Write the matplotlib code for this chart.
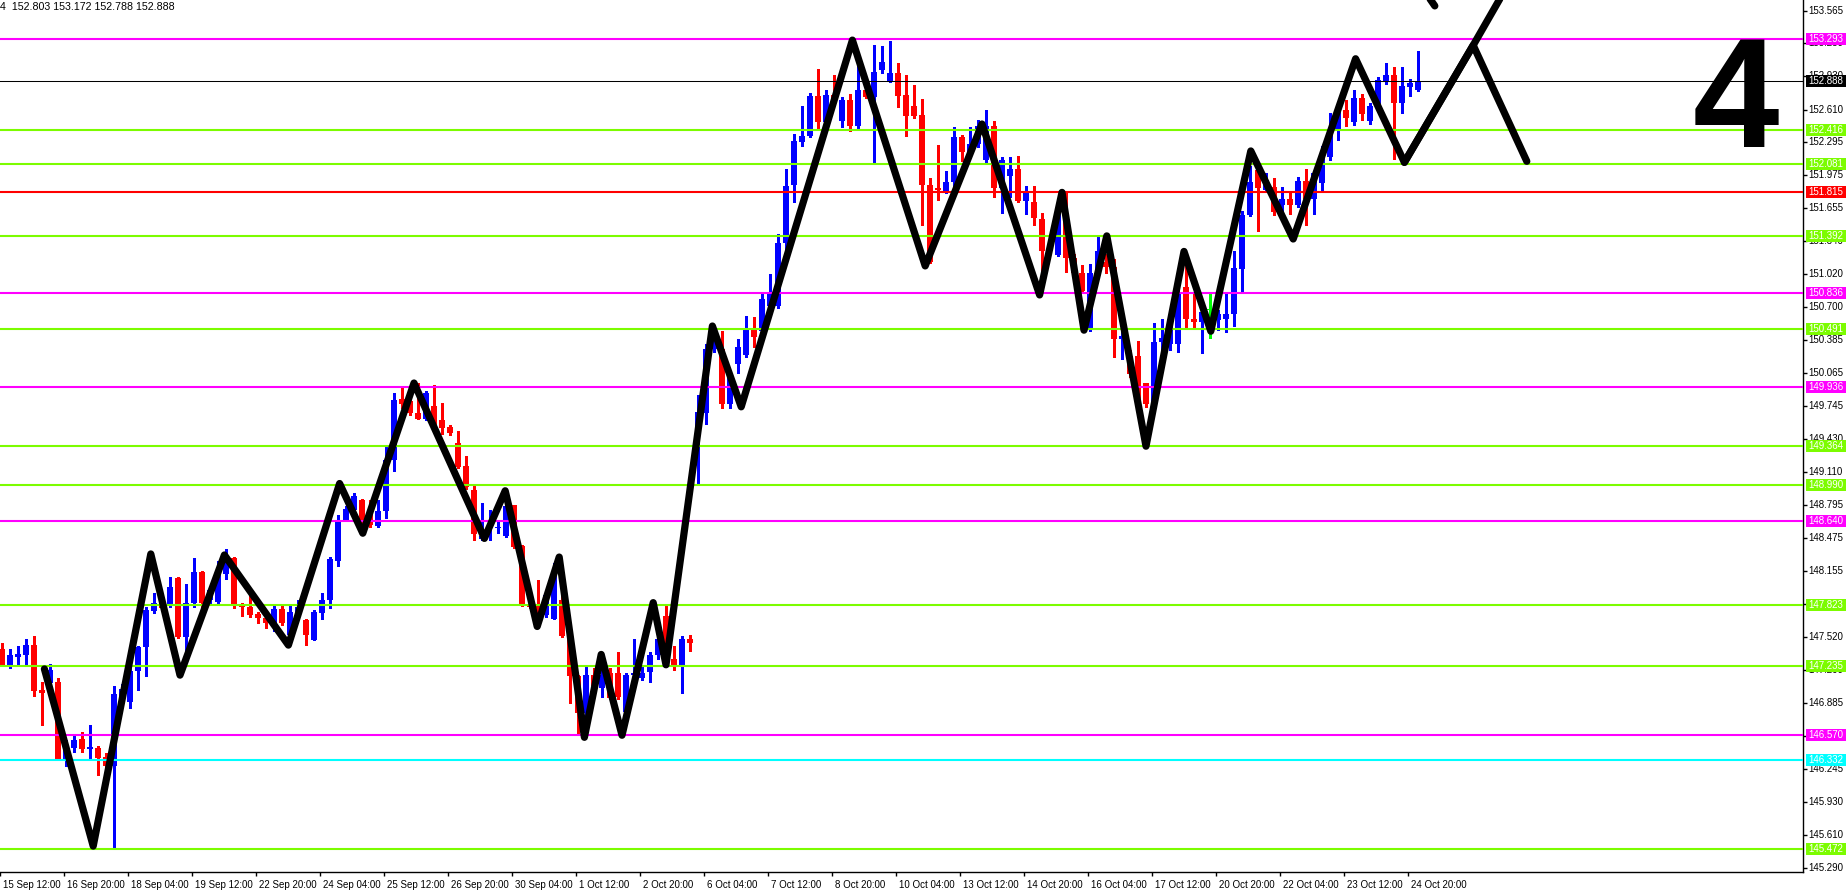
import matplotlib
matplotlib.use('Agg')
import matplotlib.pyplot as plt
from matplotlib.patches import Rectangle
from matplotlib import transforms

plt.rcParams['font.family'] = ['Liberation Sans', 'DejaVu Sans']

# H4 candles, one row per bar: open, high, low, close
ohlc = [
    (147.40, 147.46, 147.24, 147.25), (147.25, 147.40, 147.22, 147.34), (147.33, 147.43, 147.24, 147.35),
    (147.34, 147.50, 147.25, 147.44), (147.44, 147.53, 146.95, 147.00), (147.01, 147.08, 146.67, 146.98),
    (147.07, 147.26, 146.97, 147.20), (147.08, 147.12, 146.33, 146.34), (146.34, 146.52, 146.27, 146.46),
    (146.45, 146.56, 146.41, 146.52), (146.53, 146.60, 146.41, 146.44), (146.44, 146.67, 146.35, 146.45),
    (146.45, 146.47, 146.19, 146.35), (146.36, 146.40, 146.20, 146.27), (146.27, 147.05, 145.47, 146.97),
    (146.89, 147.06, 146.86, 147.02), (146.89, 147.23, 146.83, 147.19), (147.19, 147.43, 147.01, 147.42),
    (147.42, 147.81, 147.14, 147.78), (147.77, 147.94, 147.75, 147.85), (147.85, 147.92, 147.77, 147.80),
    (147.84, 148.10, 147.81, 148.00), (148.09, 148.10, 147.51, 147.52), (147.52, 148.03, 147.39, 147.85),
    (147.85, 148.28, 147.81, 148.15), (148.15, 148.16, 147.78, 147.85), (147.88, 148.00, 147.84, 147.97),
    (147.86, 148.25, 147.83, 148.16), (148.13, 148.37, 148.08, 148.28), (148.28, 148.29, 147.80, 147.84),
    (147.84, 147.85, 147.72, 147.81), (147.81, 147.94, 147.71, 147.73), (147.74, 147.76, 147.65, 147.70),
    (147.70, 147.73, 147.61, 147.65), (147.65, 147.83, 147.58, 147.79), (147.79, 147.83, 147.63, 147.65),
    (147.54, 147.82, 147.52, 147.76), (147.75, 147.88, 147.73, 147.81), (147.68, 147.69, 147.44, 147.54),
    (147.49, 147.78, 147.49, 147.76), (147.75, 147.94, 147.69, 147.88), (147.88, 148.29, 147.80, 148.27),
    (148.25, 148.70, 148.20, 148.65), (148.65, 148.78, 148.65, 148.75), (148.74, 148.91, 148.73, 148.88),
    (148.84, 148.85, 148.58, 148.60), (148.74, 148.84, 148.58, 148.60), (148.59, 148.84, 148.58, 148.73),
    (148.73, 149.35, 148.67, 149.23), (149.23, 149.87, 149.12, 149.81), (149.82, 149.93, 149.73, 149.77),
    (149.80, 149.92, 149.66, 149.68), (149.68, 149.97, 149.62, 149.62), (149.62, 149.89, 149.61, 149.87),
    (149.75, 149.95, 149.53, 149.55), (149.61, 149.78, 149.48, 149.54), (149.55, 149.56, 149.47, 149.49),
    (149.39, 149.51, 149.15, 149.16), (149.17, 149.27, 148.95, 148.97), (148.94, 148.99, 148.45, 148.51),
    (148.46, 148.81, 148.45, 148.49), (148.58, 148.74, 148.45, 148.59), (148.57, 148.63, 148.52, 148.58),
    (148.49, 148.82, 148.48, 148.78), (148.79, 148.79, 148.38, 148.39), (148.40, 148.41, 147.82, 147.84),
    (147.84, 147.86, 147.80, 147.81), (147.84, 148.07, 147.63, 147.65), (147.73, 147.97, 147.71, 147.92),
    (147.69, 148.23, 147.69, 148.13), (147.88, 147.91, 147.52, 147.53), (147.55, 147.55, 146.88, 147.14),
    (147.14, 147.15, 146.57, 146.78), (146.78, 147.25, 146.76, 147.15), (147.15, 147.22, 147.02, 147.05),
    (147.03, 147.20, 146.94, 147.15), (147.17, 147.22, 146.92, 146.93), (147.17, 147.37, 146.92, 146.94),
    (146.79, 147.17, 146.78, 147.15), (147.15, 147.50, 147.10, 147.17), (147.12, 147.23, 147.10, 147.17),
    (147.18, 147.37, 147.08, 147.34), (147.34, 147.52, 147.31, 147.50), (147.72, 147.82, 147.30, 147.34),
    (147.31, 147.43, 147.20, 147.25), (147.25, 147.53, 146.98, 147.50), (147.50, 147.54, 147.38, 147.46),
    (149.47, 149.85, 148.99, 149.69), (149.68, 150.35, 149.57, 150.30), (150.30, 150.47, 150.27, 150.40),
    (150.30, 150.47, 149.73, 149.77), (149.77, 150.08, 149.73, 150.06), (150.15, 150.39, 150.07, 150.32),
    (150.24, 150.62, 150.22, 150.48), (150.48, 150.61, 150.32, 150.41), (150.47, 150.83, 150.43, 150.78),
    (150.71, 151.02, 150.70, 150.83), (150.71, 151.41, 150.69, 151.32), (151.32, 152.04, 151.24, 151.87),
    (151.88, 152.37, 151.72, 152.31), (152.30, 152.64, 152.26, 152.35), (152.35, 152.77, 152.34, 152.74),
    (152.74, 153.00, 152.42, 152.49), (152.49, 152.80, 152.43, 152.75), (152.75, 152.94, 152.67, 152.70),
    (152.50, 152.73, 152.44, 152.70), (152.70, 152.76, 152.40, 152.45), (152.45, 153.08, 152.43, 152.80),
    (152.80, 152.83, 152.72, 152.73), (152.73, 153.23, 152.10, 152.97), (152.99, 153.22, 152.96, 153.07),
    (152.88, 153.27, 152.88, 152.96), (152.96, 153.06, 152.63, 152.74), (152.75, 152.94, 152.35, 152.55),
    (152.64, 152.85, 152.53, 152.55), (152.56, 152.71, 151.50, 151.88), (151.88, 151.95, 151.13, 151.14),
    (151.85, 152.27, 151.74, 151.83), (151.82, 152.02, 151.80, 151.91), (151.91, 152.44, 151.80, 152.34),
    (152.34, 152.36, 152.11, 152.20), (152.20, 152.44, 152.14, 152.28), (152.28, 152.51, 152.25, 152.45),
    (152.12, 152.61, 152.10, 152.45), (152.45, 152.50, 151.77, 151.85), (151.85, 152.15, 151.61, 152.12),
    (151.97, 152.15, 151.77, 152.04), (152.04, 152.16, 151.72, 151.73), (151.73, 151.87, 151.60, 151.81),
    (151.72, 151.87, 151.50, 151.56), (151.55, 151.61, 150.88, 151.24), (151.24, 151.35, 151.22, 151.30),
    (151.21, 151.65, 151.20, 151.62), (151.56, 151.82, 151.04, 151.18), (151.18, 151.22, 151.01, 151.03),
    (151.03, 151.11, 150.85, 150.86), (150.50, 151.12, 150.47, 151.03), (151.03, 151.38, 151.01, 151.24),
    (151.14, 151.22, 151.03, 151.09), (151.09, 151.17, 150.22, 150.39), (150.39, 150.47, 150.20, 150.42),
    (150.23, 150.29, 150.03, 150.06), (150.23, 150.38, 149.68, 149.77), (149.97, 149.97, 149.74, 149.77),
    (149.77, 150.55, 149.77, 150.37), (150.37, 150.59, 150.26, 150.40), (150.35, 150.64, 150.29, 150.59),
    (150.35, 150.87, 150.27, 150.84), (150.90, 151.16, 150.51, 150.59), (150.59, 150.85, 150.50, 150.56),
    (150.56, 150.71, 150.26, 150.66), (150.67, 150.84, 150.40, 150.67), (150.58, 150.67, 150.48, 150.64),
    (150.59, 150.84, 150.46, 150.64), (150.64, 151.24, 150.52, 151.08), (151.07, 151.63, 150.86, 151.59),
    (151.59, 152.06, 151.58, 151.91), (152.03, 152.04, 151.44, 151.85), (151.83, 152.00, 151.82, 151.93),
    (151.86, 151.95, 151.59, 151.62), (151.69, 151.86, 151.61, 151.75), (151.75, 151.80, 151.60, 151.69),
    (151.69, 151.96, 151.67, 151.92), (151.92, 152.04, 151.50, 151.75), (151.75, 152.01, 151.60, 152.00),
    (151.90, 152.26, 151.83, 152.15), (152.15, 152.58, 152.12, 152.40), (152.40, 152.65, 152.32, 152.61),
    (152.61, 152.70, 152.45, 152.53), (152.49, 152.80, 152.46, 152.72), (152.72, 152.76, 152.51, 152.57),
    (152.50, 152.67, 152.47, 152.64), (152.64, 152.92, 152.63, 152.89), (152.88, 153.06, 152.86, 152.94),
    (152.94, 153.02, 152.13, 152.67), (152.67, 153.02, 152.58, 152.84), (152.83, 152.90, 152.74, 152.87),
    (152.803, 153.172, 152.788, 152.888),
]

# x axis labels, one every 8 bars
date_labels = ['15 Sep 12:00', '16 Sep 20:00', '18 Sep 04:00', '19 Sep 12:00', '22 Sep 20:00',
               '24 Sep 04:00', '25 Sep 12:00', '26 Sep 20:00', '30 Sep 04:00', '1 Oct 12:00',
               '2 Oct 20:00', '6 Oct 04:00', '7 Oct 12:00', '8 Oct 20:00', '10 Oct 04:00',
               '13 Oct 12:00', '14 Oct 20:00', '16 Oct 04:00', '17 Oct 12:00', '20 Oct 20:00',
               '22 Oct 04:00', '23 Oct 12:00', '24 Oct 20:00']

price_ticks = [145.290, 145.610, 145.930, 146.245, 146.565, 146.885, 147.200, 147.520, 147.840,
               148.155, 148.475, 148.795, 149.110, 149.430, 149.745, 150.065, 150.385, 150.700,
               151.020, 151.340, 151.655, 151.975, 152.295, 152.610, 152.930, 153.250, 153.565]

# horizontal levels and their colours
levels = [153.293, 152.416, 152.081, 151.815, 151.392, 150.836, 150.491, 149.936,
          149.364, 148.990, 148.640, 147.823, 147.235, 146.570, 146.332, 145.472]
level_colors = ['#FF00FF', '#7CFC00', '#7CFC00', '#FF0000', '#7CFC00', '#FF00FF', '#7CFC00', '#FF00FF',
                '#7CFC00', '#7CFC00', '#FF00FF', '#7CFC00', '#7CFC00', '#FF00FF', '#00FFFF', '#7CFC00']
last_price = 152.888

# zigzag drawn on the chart (bar index, price)
zz_bar = [5.3, 11.4, 18.6, 22.25, 27.8, 35.8, 42.2, 45.1, 51.5, 60.3, 62.9, 66.9, 69.65, 72.8,
          74.9, 77.5, 81.4, 83.0, 88.8, 92.4, 106.3, 115.4, 122.5, 129.7, 132.5, 135.25, 138.1,
          143.0, 147.75, 151.1, 156.1, 161.4, 169.2, 175.3, 183.9, 190.6]
zz_price = [147.21, 145.50, 148.32, 147.15, 148.31, 147.44, 149.00, 148.52, 149.97, 148.47, 148.93,
            147.62, 148.29, 146.55, 147.35, 146.57, 147.85, 147.25, 150.52, 149.74, 153.28, 151.10,
            152.47, 150.82, 151.81, 150.48, 151.39, 149.36, 151.24, 150.47, 152.21, 151.36, 153.10,
            152.10, 153.23, 152.11]
zz_up_bar = [175.3, 183.9, 190.0]
zz_up_price = [152.10, 153.23, 154.05]
zz_stub_bar = [177.4, 179.1]
zz_stub_price = [153.80, 153.61]

W, H = 1848, 891
fig = plt.figure(figsize=(W / 100, H / 100), dpi=100)
ax = fig.add_axes([0, 19 / H, 1803 / W, 872 / H])
ax.set_xlim(-0.25, 225.125)
ax.set_ylim(145.25, 153.667)

for i, (o, h, l, c) in enumerate(ohlc):
    if abs(c - o) < 1e-6:
        col = '#00FF00'
    else:
        col = '#0000FF' if c > o else '#FF0000'
    ax.vlines(i, l, h, color=col, linewidth=0.8, zorder=2, antialiased=False)
    ax.bar(i, max(abs(c - o), 0.012), bottom=min(o, c), width=0.7, color=col,
           linewidth=0, zorder=2, antialiased=False)

for lv, col in zip(levels, level_colors):
    ax.axhline(lv, color=col, linewidth=1.5, zorder=3)
ax.axhline(last_price, color='black', linewidth=0.75, zorder=3)

zz_style = dict(color='black', linewidth=5.2, solid_capstyle='round', solid_joinstyle='round', zorder=5)
ax.plot(zz_bar, zz_price, **zz_style)
ax.plot(zz_up_bar, zz_up_price, **zz_style)
ax.plot(zz_stub_bar, zz_stub_price, **zz_style)

# axes look like the terminal window
for s in ['top', 'left']:
    ax.spines[s].set_visible(False)
for s in ['right', 'bottom']:
    ax.spines[s].set_linewidth(1)
ax.yaxis.tick_right()
ax.set_yticks(price_ticks)
ax.set_yticklabels([])
ax.set_xticks([k * 8 - 0.25 for k in range(len(date_labels))])
ax.set_xticklabels([])
ax.tick_params(length=3, width=1, direction='out')

fs = 7
ytrans = transforms.blended_transform_factory(ax.transAxes, ax.transData)
for t in price_ticks:
    ax.text(1808 / 1803, t, f'{t:.3f}', transform=ytrans, fontsize=fs, va='center', ha='left',
            clip_on=False, zorder=6)
box_h = 12 / 103.6
for lv, col in zip(levels + [last_price], level_colors + ['black']):
    ax.add_patch(Rectangle((1806 / 1803, lv - box_h / 2), 40 / 1803, box_h, transform=ytrans,
                           facecolor=col, edgecolor='none', clip_on=False, zorder=7))
    ax.text(1808 / 1803, lv, f'{lv:.3f}', transform=ytrans, fontsize=fs, color='white',
            va='center', ha='left', clip_on=False, zorder=8)

xtrans = transforms.blended_transform_factory(ax.transData, ax.transAxes)
for k, lab in enumerate(date_labels):
    ax.text(k * 8 + 0.1, -13 / 872, lab, transform=xtrans, fontsize=fs, va='center', ha='left',
            clip_on=False)

o, h, l, c = ohlc[-1]
fig.text(0, 1 - 7 / H, f'4  {o:.3f} {h:.3f} {l:.3f} {c:.3f}', fontsize=7.7, va='center', ha='left')
fig.text(1736 / W, 1 - 147 / H, '4', fontsize=112, fontweight='bold', ha='center', va='baseline')

fig.savefig('out.png', dpi=100)
